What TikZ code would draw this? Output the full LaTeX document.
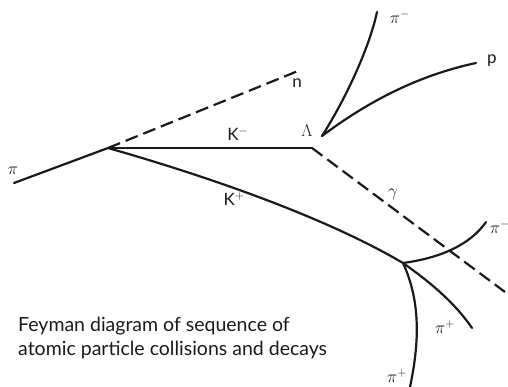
\documentclass[tikz,border=0pt]{standalone}
\usepackage{fontspec}
\setmainfont{Lato}
\usetikzlibrary{positioning}
\definecolor{ink}{HTML}{1A1A1A}
\tikzset{
  track/.style={draw=ink,line width=2.2pt,line cap=round},
  neutral/.style={track,dash pattern=on 13pt off 6pt,line cap=butt},
  lbl/.style={text=ink,inner sep=1pt,font=\fontsize{17}{19}\selectfont},
  caption/.style={text=ink,align=left,anchor=base west,inner sep=0pt,font=\fontsize{19.5}{24}\selectfont}
}
\begin{document}
\begin{tikzpicture}[x=1pt,y=-1pt]
  \useasboundingbox (0,0) rectangle (508,387);
  \coordinate (pin) at (14,183);
  \coordinate (v1) at (108,148);
  \coordinate (nend) at (298,71);
  \coordinate (lam) at (312,148);
  \coordinate (ldec) at (322,136);
  \coordinate (pimtop) at (377,12);
  \coordinate (pend) at (476,63);
  \coordinate (gend) at (505,292);
  \coordinate (v2) at (403,263);
  \coordinate (pimr) at (486,222);
  \coordinate (pipr) at (472,328);
  \coordinate (pipd) at (410,387);

  \draw[track] (pin) -- (v1);
  \draw[neutral] (v1) -- (nend);
  \draw[track] (v1) -- (lam);
  \draw[neutral] (lam) -- (gend);
  \draw[track] (ldec) .. controls (348,95) and (370,45) .. (pimtop);
  \draw[track] (ldec) .. controls (370,100) and (420,75) .. (pend);
  \draw[track] (v1) .. controls (220,180) and (330,220) .. (v2);
  \draw[track] (v2) .. controls (440,258) and (470,245) .. (pimr);
  \draw[track] (v2) .. controls (430,282) and (455,303) .. (pipr);
  \draw[track] (v2) .. controls (420,300) and (420,340) .. (pipd);

  \node[lbl] (lpi) at (13,171) {$\pi$};
  \node[lbl] (ln) at (297,83) {n};
  \node[lbl] (lkm) at (238,134) {K$^-$};
  \node[lbl] (llam) at (307,131) {$\Lambda$};
  \node[lbl] (lkp) at (234,199) {K$^+$};
  \node[lbl] (lpim) at (400,17) {$\pi^-$};
  \node[lbl] (lp) at (492,61) {p};
  \node[lbl] (lgam) at (393,194) {$\gamma$};
  \node[lbl] (lpimr) at (500,227) {$\pi^-$};
  \node[lbl] (lpipr) at (445,327) {$\pi^+$};
  \node[lbl] (lpipd) at (397,376) {$\pi^+$};

  \node[caption] (cap) at (18,355) {Feyman diagram of sequence of\\atomic particle collisions and decays};
\end{tikzpicture}
\end{document}
